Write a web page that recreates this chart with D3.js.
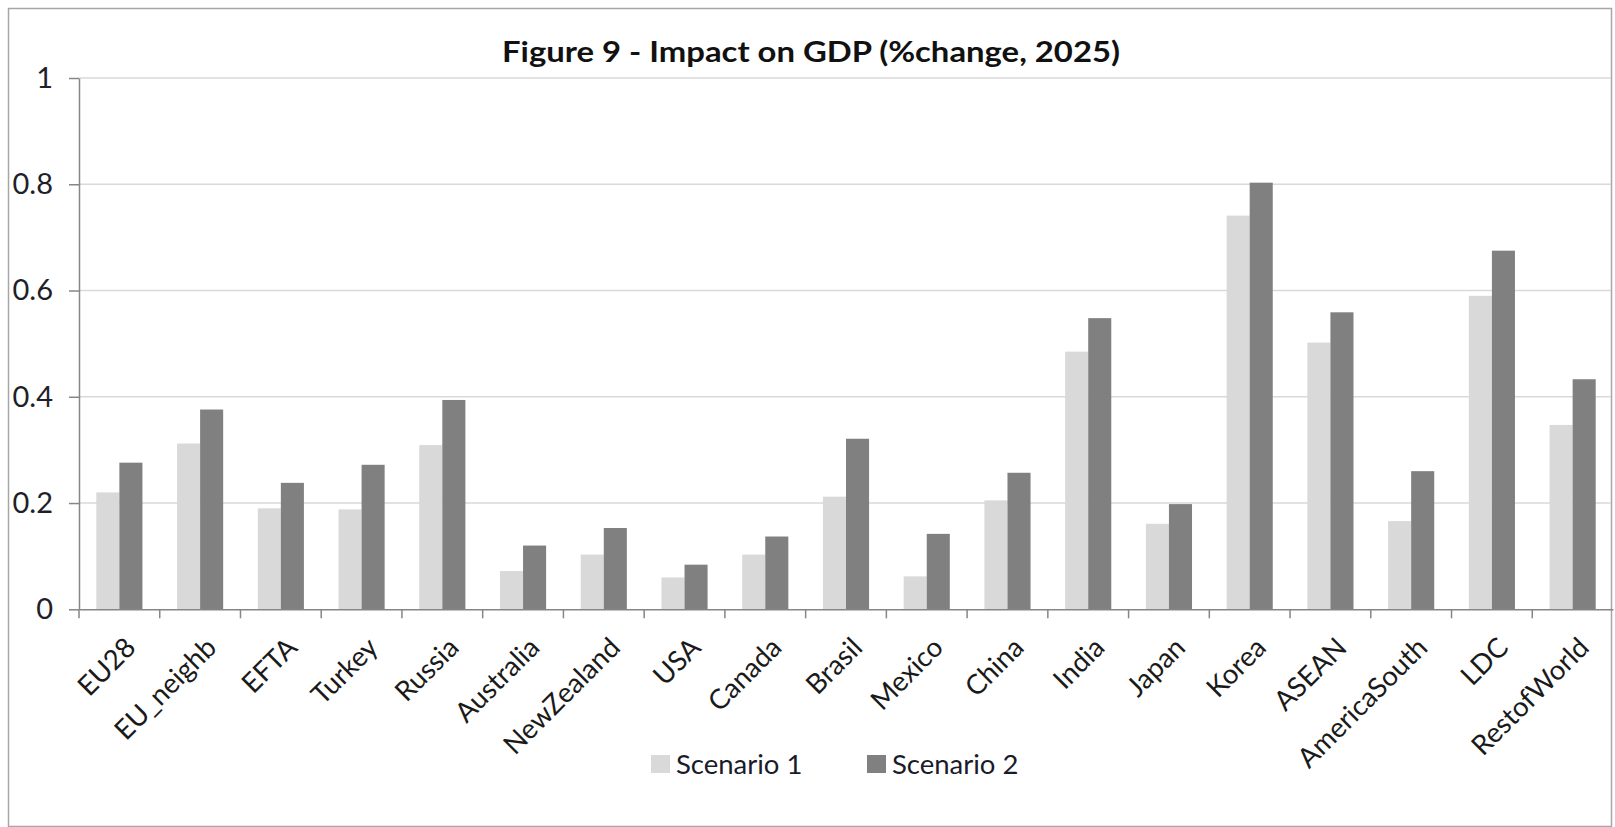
<!DOCTYPE html>
<html>
<head>
<meta charset="utf-8">
<script src="https://cdn.jsdelivr.net/npm/d3@7"></script>
<style>
  html, body { margin: 0; padding: 0; background: #fff; }
  svg { display: block; }
</style>
</head>
<body>
<svg id="chart" width="1615" height="827"></svg>
<script>
const categories = ["EU28","EU_neighb","EFTA","Turkey","Russia","Australia","NewZealand","USA","Canada","Brasil","Mexico","China","India","Japan","Korea","ASEAN","AmericaSouth","LDC","RestofWorld"];
const seriesNames = ["Scenario 1","Scenario 2"];
const scenario1 = [0.220,0.312,0.190,0.188,0.309,0.072,0.103,0.060,0.103,0.212,0.062,0.205,0.485,0.161,0.741,0.502,0.166,0.590,0.347];
const scenario2 = [0.276,0.376,0.238,0.272,0.394,0.120,0.153,0.084,0.137,0.321,0.142,0.257,0.548,0.198,0.803,0.559,0.260,0.675,0.433];
const yTicks = [0, 0.2, 0.4, 0.6, 0.8, 1];
const yTickLabels = ["0","0.2","0.4","0.6","0.8","1"];
const titleText = "Figure 9 - Impact on GDP (%change, 2025)";

(function () {
const colors = {"Scenario 1": "#d9d9d9", "Scenario 2": "#808080"};
const FONT = "Lato, 'Open Sans', sans-serif";

const svg = d3.select("#chart");

// outer border
svg.append("rect")
  .attr("x", 8.5).attr("y", 8.5)
  .attr("width", 1603).attr("height", 818)
  .attr("fill", "#fff")
  .attr("stroke", "#a6a6a6").attr("stroke-width", 1.5);

const pLeft = 79, pRight = 1613, pTop = 78, pBottom = 609.3;

const x0 = d3.scaleBand().domain(categories).range([pLeft, pRight]).padding(0);
const x1 = d3.scaleBand().domain(seriesNames).range([0, x0.bandwidth()]).paddingInner(0).paddingOuter(0.75);
const y = d3.scaleLinear().domain([0, 1]).range([pBottom, pTop]);

// gridlines
svg.append("g").selectAll("line").data(yTicks.filter(d => d > 0)).join("line")
  .attr("x1", pLeft).attr("x2", pRight - 2)
  .attr("y1", d => y(d)).attr("y2", d => y(d))
  .attr("stroke", "#d9d9d9").attr("stroke-width", 1.5);

// bars
const rows = categories.map((c, i) => ({cat: c, values: [
  {s: "Scenario 1", v: scenario1[i]},
  {s: "Scenario 2", v: scenario2[i]}
]}));

svg.append("g").selectAll("g").data(rows).join("g")
  .attr("transform", d => `translate(${x0(d.cat)},0)`)
  .selectAll("rect").data(d => d.values).join("rect")
  .attr("x", d => x1(d.s))
  .attr("width", x1.bandwidth())
  .attr("y", d => y(d.v))
  .attr("height", d => y(0) - y(d.v))
  .attr("fill", d => colors[d.s]);

// y axis
const yAxis = d3.axisLeft(y).tickValues(yTicks)
  .tickFormat((d, i) => yTickLabels[i]).tickSizeInner(10).tickSizeOuter(0).tickPadding(16);
const ya = svg.append("g").attr("transform", `translate(${pLeft},0)`).call(yAxis);
ya.select(".domain").attr("stroke", "#868686").attr("stroke-width", 1.5);
ya.selectAll(".tick line").attr("stroke", "#868686").attr("stroke-width", 1.5);
ya.selectAll(".tick text").attr("font-family", FONT).attr("font-size", 29).attr("fill", "#1f1f2a");

// x axis
const xAxis = d3.axisBottom(x0).tickSize(0).tickFormat("");
const xa = svg.append("g").attr("transform", `translate(0,${pBottom})`).call(xAxis);
xa.select(".domain").attr("stroke", "#868686").attr("stroke-width", 1.5);
xa.selectAll(".tick").remove();
const bounds = categories.map(c => x0(c));
xa.selectAll("line.bt").data(bounds).join("line").attr("class", "bt")
  .attr("x1", d => d).attr("x2", d => d).attr("y1", 0).attr("y2", 9)
  .attr("stroke", "#868686").attr("stroke-width", 1.5);

// x labels
svg.append("g").selectAll("text").data(categories).join("text")
  .attr("transform", d => `translate(${x0(d) + x0.bandwidth() / 2 + 18},${pBottom + 40}) rotate(-45)`)
  .attr("text-anchor", "end")
  .attr("font-family", FONT).attr("font-size", 27.5).attr("fill", "#1a1a1a")
  .text(d => d);

// title
svg.append("text")
  .attr("x", 811).attr("y", 62)
  .attr("text-anchor", "middle")
  .attr("font-family", FONT).attr("font-weight", "bold").attr("font-size", 29)
  .attr("fill", "#111")
  .attr("textLength", 618).attr("lengthAdjust", "spacingAndGlyphs")
  .text(titleText);

// legend
const legendX = [651, 867];
const lg = svg.append("g");
seriesNames.forEach((s, i) => {
  lg.append("rect").attr("x", legendX[i]).attr("y", 755).attr("width", 19).attr("height", 18).attr("fill", colors[s]);
  lg.append("text").attr("x", legendX[i] + 25).attr("y", 774)
    .attr("font-family", FONT).attr("font-size", 27.5).attr("fill", "#1a1a2a").text(s);
});
})();
</script>
</body>
</html>
